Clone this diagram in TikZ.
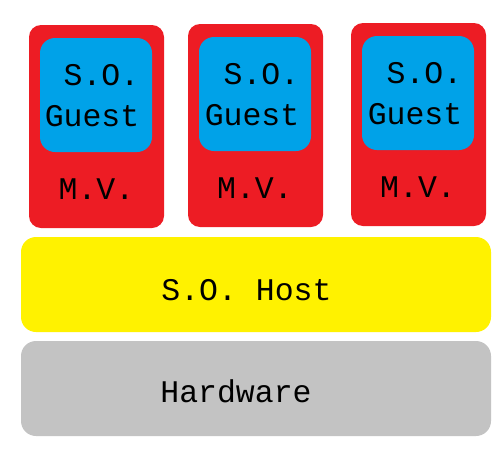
\documentclass[tikz,border=0pt]{standalone}
\usepackage{fontspec}
\newfontfamily\monofont{Liberation Mono}
\usepackage{xcolor}
\definecolor{vm-red}{RGB}{237,28,36}
\definecolor{guest-blue}{RGB}{0,162,232}
\definecolor{host-yellow}{RGB}{255,242,0}
\definecolor{hw-gray}{RGB}{195,195,195}
\usepackage{tikz}

\begin{document}
\begin{tikzpicture}[x=1pt,y=-1pt,inner sep=0pt,
	font=\monofont\fontsize{31.5}{38}\selectfont]
	\useasboundingbox (0,0) rectangle (500,450);
	
	% maquinas virtuales
	\foreach \x/\y/\z in 
	{29/25/a,188/24/b,351/23/c}{
		\fill[vm-red,rounded corners=12pt] (\x,\y) coordinate (vm-\z) rectangle ++(135,203);
		\fill[guest-blue,rounded corners=15pt] (\x+11,\y+13) rectangle ++(112,114);
	}
	\fill[host-yellow,rounded corners=15pt] (21,237) rectangle (491,332);
	\fill[hw-gray,rounded corners=15pt] (21,341) rectangle (491,436);
	
	\foreach \x/\y/\z in 
	{139.5/85/a,299.5/84/b,462.5/83/c}{
		\node[anchor=base east] (so-\z) at (\x,\y) {S.O.};
		\node[anchor=base east] (guest-\z) at (\x,\y+41) {Guest};
	}
	\foreach \x/\y/\z in 
	{96.5/199/a,255/198/b,418/197/c}{
		\node[anchor=base] (mv-\z) at (\x,\y) {M.V.};
	}
	
	\path 
		(246.5,300) node[anchor=base] (host) {S.O. Host}
		(236,402)   node[anchor=base] (hw) {Hardware};
\end{tikzpicture}
\end{document}
